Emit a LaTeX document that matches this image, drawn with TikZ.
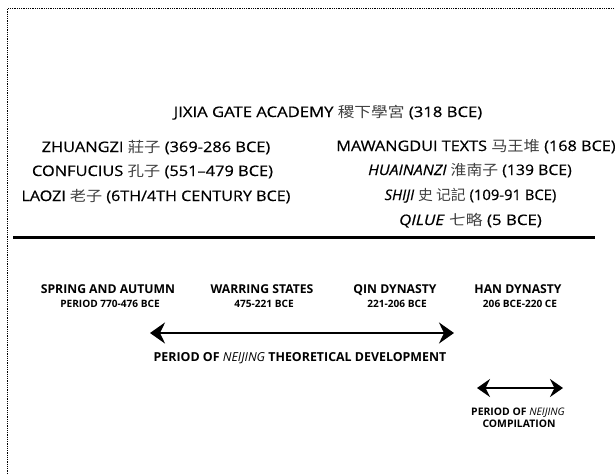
\documentclass[tikz,border=0pt]{standalone}
\usepackage{graphicx}
\usepackage{fontspec}
\setmainfont{Open Sans}
\newfontfamily\medfont[FakeBold=0.5]{Open Sans}
\newfontfamily\cjk{Noto Sans CJK TC}
\usetikzlibrary{arrows.meta}
\newcommand{\zh}[1]{{\cjk\color{black!75}#1}}
\newcommand{\wide}[2][1.12]{\scalebox{#1}[1]{#2}}
\begin{document}
\begin{tikzpicture}[x=1pt,y=-1pt,
  txt/.style={font=\medfont\fontsize{14.5}{16}\selectfont, anchor=base, inner sep=0pt},
  era/.style={font=\bfseries\fontsize{12.2}{14}\selectfont, anchor=base, inner sep=0pt},
  sub/.style={font=\bfseries\fontsize{10.1}{12}\selectfont, anchor=base, inner sep=0pt},
  per/.style={font=\bfseries\fontsize{12.4}{14}\selectfont, anchor=base, inner sep=0pt},
  comp/.style={font=\bfseries\fontsize{10.4}{12}\selectfont, anchor=base, inner sep=0pt},
  span/.style={line width=2.5pt, {Stealth[length=15pt,width=21pt,inset=5pt]}-{Stealth[length=15pt,width=21pt,inset=5pt]}},
  spansmall/.style={line width=2.2pt, {Stealth[length=13pt,width=18pt,inset=4.5pt]}-{Stealth[length=13pt,width=18pt,inset=4.5pt]}},
  border/.style={line width=0.8pt, dash pattern=on 0.9pt off 0.9pt}]
\useasboundingbox (0,0) rectangle (615,474);
\draw[border] (7.5,474) -- (7.5,8.5) -- (615,8.5);

\node[txt] (jixia) at (328,117) {\wide[1.15]{JIXIA GATE ACADEMY \zh{稷下學宮} (318 BCE)}};
\node[txt] (zhuang) at (156,152) {\wide[1.13]{ZHUANGZI \zh{莊子} (369-286 BCE)}};
\node[txt] (conf) at (152.5,176) {\wide[1.13]{CONFUCIUS \zh{孔子} (551–479 BCE)}};
\node[txt] (laozi) at (156,201) {\wide[1.11]{LAOZI \zh{老子} (6TH/4TH CENTURY BCE)}};
\node[txt] (mawang) at (476,151) {\wide[1.12]{MAWANGDUI TEXTS \zh{马王堆} (168 BCE)}};
\node[txt] (huai) at (470,175) {\wide[1.09]{\textit{HUAINANZI} \zh{淮南子} (139 BCE)}};
\node[txt] (shiji) at (470.5,200) {\wide[1.02]{\textit{SHIJI} \zh{史 记記} (109-91 BCE)}};
\node[txt] (qilue) at (470.5,225) {\wide[1.16]{\textit{QILUE} \zh{七略} (5 BCE)}};

\coordinate (l1) at (13,237);
\coordinate (l2) at (595,237);
\draw[line width=3pt] (l1) -- (l2);

\node[era] (spring) at (108,293) {SPRING AND AUTUMN};
\node[sub] (springd) at (110,307) {PERIOD 770-476 BCE};
\node[era] (warring) at (262,293) {WARRING STATES};
\node[sub] (warringd) at (264,307) {475-221 BCE};
\node[era] (qin) at (395,293) {QIN DYNASTY};
\node[sub] (qind) at (397,307) {221-206 BCE};
\node[era] (han) at (518,293) {HAN DYNASTY};
\node[sub] (hand) at (520,307) {206 BCE-220 CE};

\coordinate (a1) at (150,333);
\coordinate (a2) at (454,333);
\draw[span] (a1) -- (a2);
\node[per] (theo) at (300,361) {PERIOD OF {\mdseries\itshape NEIJING} THEORETICAL DEVELOPMENT};

\coordinate (b1) at (477,388);
\coordinate (b2) at (563,388);
\draw[spansmall] (b1) -- (b2);
\node[comp] (comp1) at (518,415) {PERIOD OF {\mdseries\itshape NEIJING}};
\node[comp] (comp2) at (519,427) {COMPILATION};
\end{tikzpicture}
\end{document}
